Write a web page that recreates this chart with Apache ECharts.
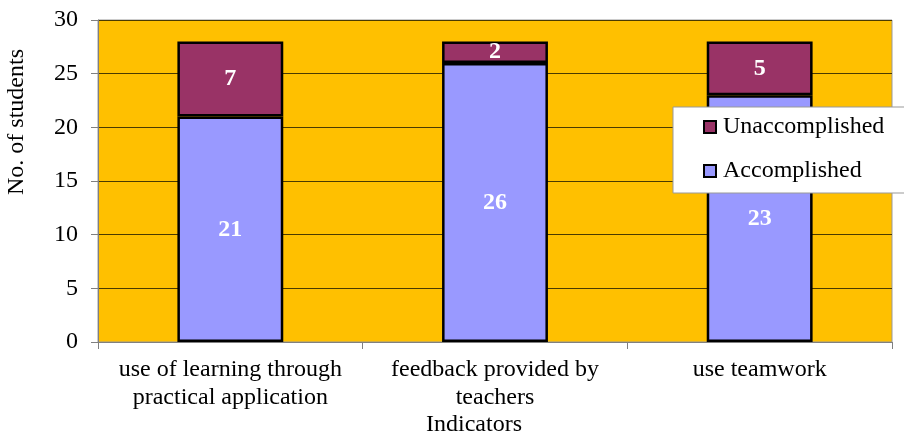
<!DOCTYPE html>
<html>
<head>
<meta charset="utf-8">
<script src="https://cdn.jsdelivr.net/npm/echarts@6/dist/echarts.min.js"></script>
<style>html,body{margin:0;padding:0;background:#fff;}#c{width:904px;height:437px;}</style>
</head>
<body>
<div id="c"></div>
<script>
const categories = ['use of learning through\npractical application', 'feedback provided by\nteachers', 'use teamwork'];
const accomplished = [21, 26, 23];
const unaccomplished = [7, 2, 5];
const yTicks = { min: 0, max: 30, interval: 5 };

const font = 'Liberation Serif, Times New Roman, serif';
const chart = echarts.init(document.getElementById('c'), null, { renderer: 'canvas' });
chart.setOption({
  animation: false,
  backgroundColor: '#fff',
  grid: { left: 98, right: 12, top: 20, bottom: 95, containLabel: false, outerBoundsMode: 'none', show: true, backgroundColor: '#FFC000', borderColor: '#999', borderWidth: 1 },
  legend: {
    orient: 'vertical', left: 673, top: 107,
    data: ['Unaccomplished', 'Accomplished'],
    backgroundColor: '#fff', borderColor: '#999', borderWidth: 1,
    padding: [8, 70, 10, 30],
    itemWidth: 12, itemHeight: 12, itemGap: 20,
    icon: 'rect',
    textStyle: { fontFamily: font, fontSize: 24, color: '#000', lineHeight: 24, padding: [0, 0, 0, 2] }
  },
  xAxis: {
    type: 'category', data: categories,
    axisLine: { lineStyle: { color: '#808080', width: 1 } },
    axisTick: { show: true, length: 7, alignWithLabel: false, lineStyle: { color: '#808080' } },
    axisLabel: { fontFamily: font, fontSize: 24, color: '#000', lineHeight: 28, margin: 14, interval: 0 },
    splitLine: { show: false }
  },
  yAxis: {
    type: 'value', min: yTicks.min, max: yTicks.max, interval: yTicks.interval,
    axisLine: { show: true, lineStyle: { color: '#808080', width: 1 } },
    axisTick: { show: true, length: 7, lineStyle: { color: '#808080' } },
    axisLabel: { fontFamily: font, fontSize: 24, color: '#000', margin: 20 },
    splitLine: { show: true, lineStyle: { color: '#4a3a00', width: 1 } }
  },
  graphic: [
    {
      type: 'text', x: 474, y: 413,
      style: { text: 'Indicators', fontFamily: font, fontSize: 24, fill: '#000', align: 'center', textAlign: 'center' }
    },
    {
      type: 'text', x: 17, y: 122, rotation: Math.PI / 2,
      style: { text: 'No. of students', fontFamily: font, fontSize: 24, fill: '#000', align: 'center', verticalAlign: 'middle' }
    }
  ],
  series: [
    {
      name: 'Accomplished', type: 'bar', stack: 'total', data: accomplished, barWidth: '40%',
      itemStyle: { color: '#9999FF', borderColor: '#000', borderWidth: 2.5 },
      label: { show: true, position: 'inside', color: '#fff', fontFamily: font, fontSize: 24, fontWeight: 'bold' }
    },
    {
      name: 'Unaccomplished', type: 'bar', stack: 'total', data: unaccomplished, barWidth: '40%',
      itemStyle: { color: '#993366', borderColor: '#000', borderWidth: 2.5 },
      label: { show: true, position: 'inside', color: '#fff', fontFamily: font, fontSize: 24, fontWeight: 'bold' }
    }
  ]
});
</script>
</body>
</html>
